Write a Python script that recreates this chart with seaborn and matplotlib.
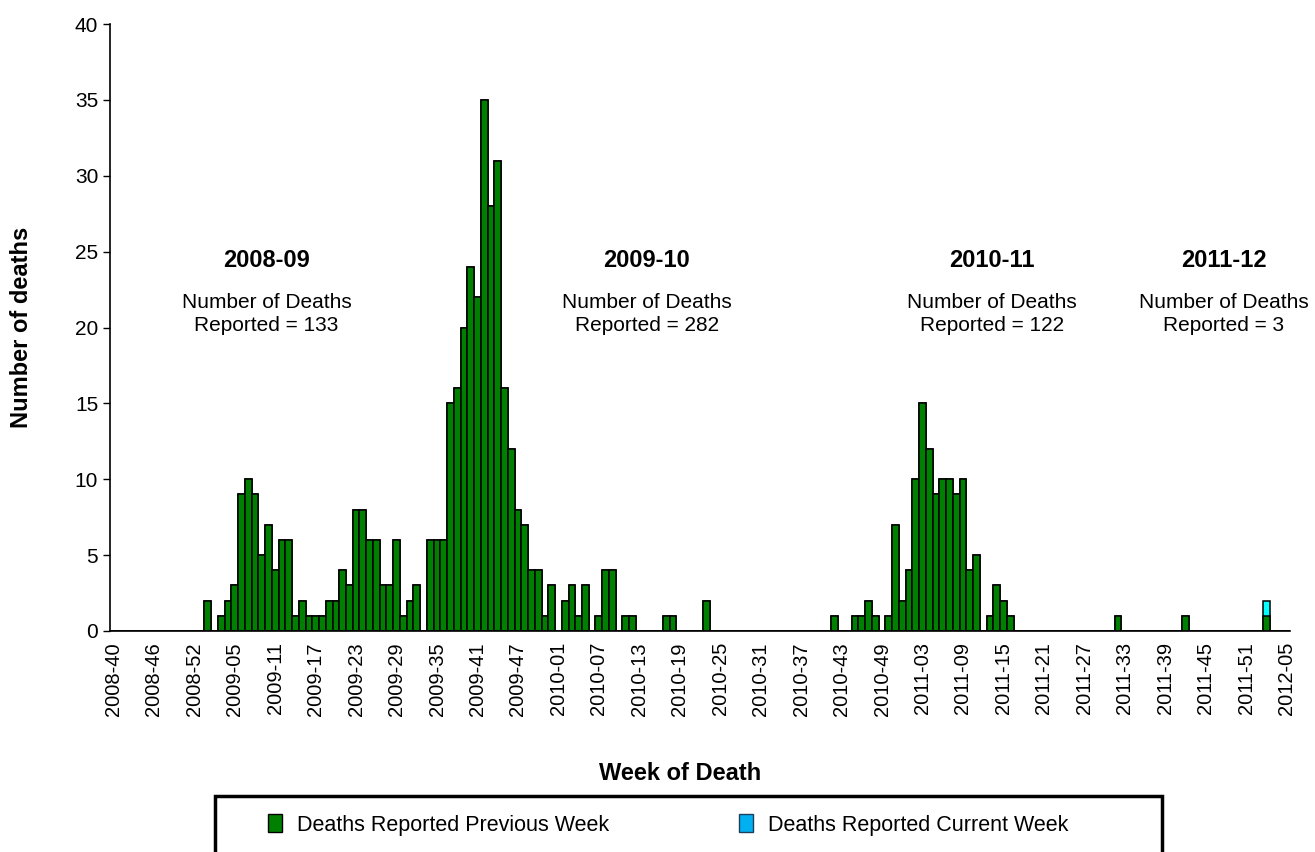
import seaborn as sns
import matplotlib.pyplot as plt
import matplotlib.patches as mpatches
import numpy as np
import pandas as pd

sns.set_style("white")
plt.rcParams['font.family'] = ['Liberation Sans', 'DejaVu Sans']
plt.rcParams.update({"text.color": "black", "axes.labelcolor": "black",
                     "xtick.color": "black", "ytick.color": "black"})

# ── Data: deaths by week of death, reported before the current week ──
deaths_2008 = [0, 0, 0, 0, 0, 0, 0, 0, 0, 0, 0, 0, 0, 0]          # weeks 40-53
deaths_2009 = [2, 0, 1, 2, 3, 9, 10, 9, 5, 7,
               4, 6, 6, 1, 2, 1, 1, 1, 2, 2,
               4, 3, 8, 8, 6, 6, 3, 3, 6, 1,
               2, 3, 0, 6, 6, 6, 15, 16, 20, 24,
               22, 35, 28, 31, 16, 12, 8, 7, 4, 4,
               1, 3]                                              # weeks 1-52
deaths_2010 = [0, 2, 3, 1, 3, 0, 1, 4, 4, 0,
               1, 1, 0, 0, 0, 0, 1, 1, 0, 0,
               0, 0, 2, 0, 0, 0, 0, 0, 0, 0,
               0, 0, 0, 0, 0, 0, 0, 0, 0, 0,
               0, 1, 0, 0, 1, 1, 2, 1, 0, 1,
               7, 2]
deaths_2011 = [4, 10, 15, 12, 9, 10, 10, 9, 10, 4,
               5, 0, 1, 3, 2, 1, 0, 0, 0, 0,
               0, 0, 0, 0, 0, 0, 0, 0, 0, 0,
               0, 1, 0, 0, 0, 0, 0, 0, 0, 0,
               0, 1, 0, 0, 0, 0, 0, 0, 0, 0,
               0, 0]
deaths_2012 = [0, 1, 0, 0, 0]                                     # weeks 1-5
current_2012 = [0, 1, 0, 0, 0]                                    # reported this week

week_spans = [(2008, 40, 53), (2009, 1, 52), (2010, 1, 52), (2011, 1, 52), (2012, 1, 5)]

seasons = ["2008-09", "2009-10", "2010-11", "2011-12"]
season_totals = [133, 282, 122, 3]

weeks = [f"{y}-{w:02d}" for y, a, b in week_spans for w in range(a, b + 1)]
previous = deaths_2008 + deaths_2009 + deaths_2010 + deaths_2011 + deaths_2012
current = [0] * (len(previous) - len(current_2012)) + current_2012

df = pd.DataFrame({
    "week": weeks,
    "previous": previous,
    "total": np.array(previous) + np.array(current),
})

# ── Plot ─────────────────────────────────────────────
fig, ax = plt.subplots(figsize=(13.15, 8.52), dpi=100)
fig.subplots_adjust(left=110 / 1315, right=1290 / 1315, bottom=1 - 631 / 852, top=1 - 24 / 852)

bar_kw = dict(width=1, edgecolor="black", linewidth=1.1, saturation=1, errorbar=None, ax=ax)
sns.barplot(data=df, x="week", y="total", color="#00FFFF", **bar_kw)
sns.barplot(data=df, x="week", y="previous", color="#008000", **bar_kw)

ax.set_xlim(-0.5, len(weeks) - 0.5)
ax.set_ylim(0, 40)
ax.set_yticks(range(0, 41, 5))
ax.set_xticks(range(0, len(weeks), 6))
ax.set_xticklabels(weeks[::6], rotation=90, fontsize=14.5)
ax.set_xticks(np.arange(-0.5, len(weeks), 2), minor=True)
ax.tick_params(axis="x", which="major", length=0, pad=8)
ax.tick_params(axis="x", which="minor", length=6, color="#808080", width=1)
ax.tick_params(axis="y", length=5, width=1, color="black", labelsize=15, left=True)

sns.despine(ax=ax)
for s in ["left", "bottom"]:
    ax.spines[s].set_color("black")
    ax.spines[s].set_linewidth(1.2)

ax.set_xlabel("")
ax.set_ylabel("Number of deaths", fontsize=17, fontweight="bold", labelpad=30)
fig.text(680 / 1315, 1 - 773 / 852, "Week of Death", ha="center", va="center",
         fontsize=17, fontweight="bold")

# season annotations
label_x = [22.7, 79.1, 130.3, 164.7]
for x, season, total in zip(label_x, seasons, season_totals):
    ax.text(x, 24.4, season, ha="center", va="center", fontsize=17, fontweight="bold")
    ax.text(x, 20.9, f"Number of Deaths\nReported = {total}", ha="center", va="center",
            fontsize=15, linespacing=1.3)

# legend
handles = [
    mpatches.Patch(facecolor="#008000", edgecolor="black", linewidth=1),
    mpatches.Patch(facecolor="#00B0F0", edgecolor="#1f3f5f", linewidth=1),
]
fig.legend(handles, ["Deaths Reported Previous Week", "Deaths Reported Current Week"],
           loc="center left", bbox_to_anchor=(249 / 1315, 1 - 825 / 852), ncol=2,
           frameon=False, fontsize=15.5, handlelength=0.65, handleheight=0.9,
           handletextpad=0.7, columnspacing=6.0)
fig.add_artist(mpatches.Rectangle((215 / 1315, 1 - 862 / 852), (1162 - 215) / 1315, (862 - 796) / 852,
                                  transform=fig.transFigure, fill=False, edgecolor="black",
                                  linewidth=2.5, clip_on=False))

fig.savefig("out.png", dpi=100)
